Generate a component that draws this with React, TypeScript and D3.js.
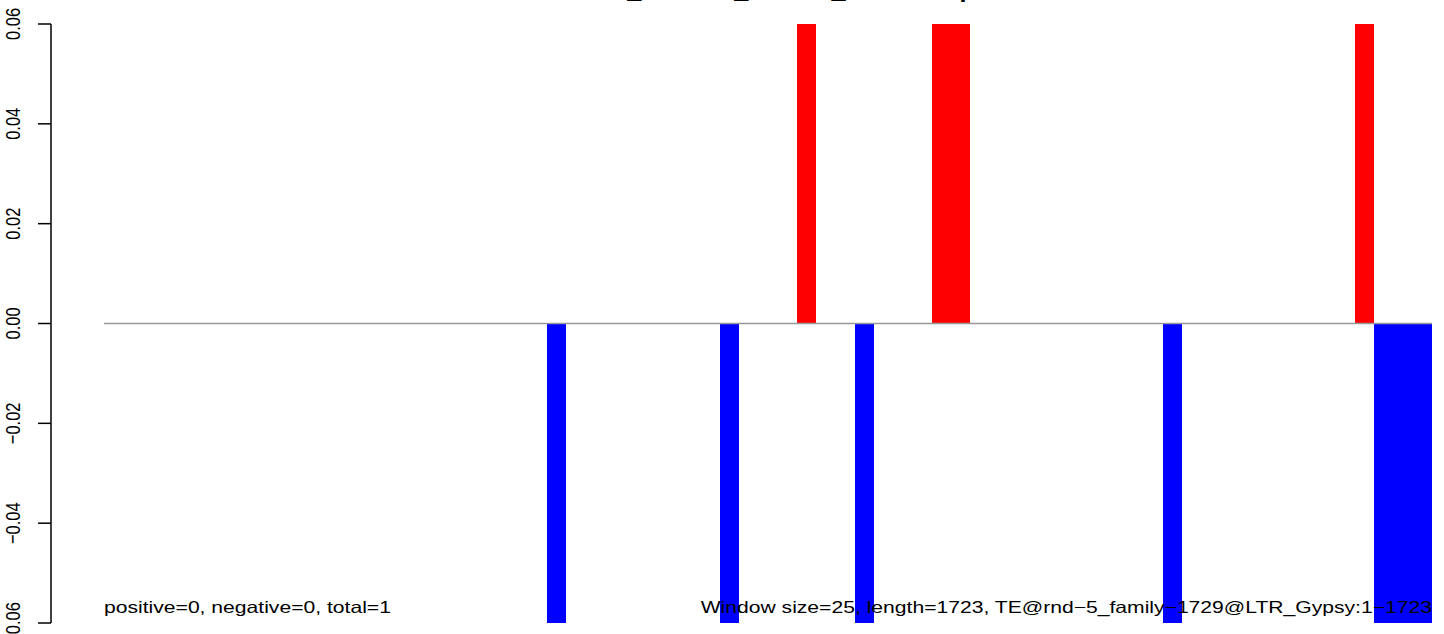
import React from "react";
import * as d3 from "d3";

const W = 1444;
const H = 634;

const nWindows = 69;
const positiveBins = [36, 43, 44, 65];
const positiveValues = [1, 1, 1, 1];
const negativeBins = [23, 32, 39, 55, 66, 67, 68];
const negativeValues = [-1, -1, -1, -1, -1, -1, -1];
const yTicks = [-0.06, -0.04, -0.02, 0, 0.02, 0.04, 0.06];
const titleText = "LTR_window_counts_strandmap";
const leftNote = "positive=0, negative=0, total=1";
const rightNote = "Window size=25, length=1723, TE@rnd\u22125_family\u22121729@LTR_Gypsy:1\u22121723";

const SX = 1.28;
const FS = 16.5;

export default function App() {
  const x = d3.scaleLinear().domain([0, nWindows]).range([104, 1432]);
  const y = d3.scaleLinear().domain([-0.06, 0.06]).range([623, 24]);
  const fmt = (v: number) => d3.format(".2f")(v).replace("-", "\u2212");

  const bars = [
    ...positiveBins.map((b, i) => ({ b, v: positiveValues[i], c: "#ff0000" })),
    ...negativeBins.map((b, i) => ({ b, v: negativeValues[i], c: "#0000ff" })),
  ];

  return (
    <svg
      width={W}
      height={H}
      style={{ position: "absolute", left: 0, top: 0, background: "#fff" }}
      fontFamily="'Liberation Sans', Arial, Helvetica, sans-serif"
    >
      <defs>
        <clipPath id="plotclip">
          <rect x={x(0)} y={y(0.06)} width={x(nWindows) - x(0)} height={y(-0.06) - y(0.06)} />
        </clipPath>
      </defs>
      <rect x={0} y={0} width={W} height={H} fill="#fff" />
      {/* title (cut off at top) */}
      <g transform={`translate(580,-2) scale(${SX},1)`}>
        <text x={0} y={0} fontSize={19.8} fontWeight="bold" fill="#000">
          {titleText}
        </text>
      </g>
      {/* bars */}
      <g clipPath="url(#plotclip)" shapeRendering="crispEdges">
        {bars.map((d, i) => (
          <rect
            key={i}
            x={x(d.b)}
            width={x(d.b + 1) - x(d.b)}
            y={d.v >= 0 ? y(d.v) : y(0)}
            height={Math.abs(y(d.v) - y(0))}
            fill={d.c}
          />
        ))}
      </g>
      {/* zero line */}
      <line x1={x(0)} x2={x(nWindows)} y1={y(0)} y2={y(0)} stroke="#999" strokeWidth={1.3} />
      {/* y axis */}
      <line x1={51} x2={51} y1={y(0.06)} y2={y(-0.06)} stroke="#000" strokeWidth={1.5} />
      {yTicks.map((t) => (
        <g key={t}>
          <line x1={38} x2={51} y1={y(t)} y2={y(t)} stroke="#000" strokeWidth={1.5} />
          <g transform={`translate(20,${y(t)}) scale(${SX},1) rotate(-90)`}>
            <text x={0} y={0} fontSize={FS} textAnchor="middle" fill="#000">
              {fmt(t)}
            </text>
          </g>
        </g>
      ))}
      {/* notes */}
      <g transform={`translate(104,613) scale(${SX},1)`}>
        <text x={0} y={0} fontSize={FS} fill="#000">
          {leftNote}
        </text>
      </g>
      <g transform={`translate(1432,613) scale(${SX},1)`}>
        <text x={0} y={0} fontSize={FS} textAnchor="end" fill="#000">
          {rightNote}
        </text>
      </g>
    </svg>
  );
}
